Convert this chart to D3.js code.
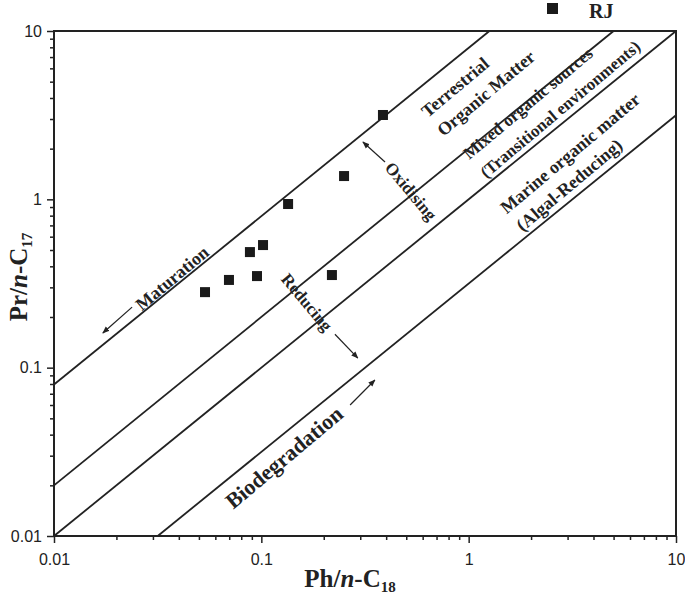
<!DOCTYPE html>
<html>
<head>
<meta charset="utf-8">
<script src="https://cdn.jsdelivr.net/npm/d3@7"></script>
<style>
body { margin: 0; background: #fff; }
.tick text { font-family: "Liberation Sans", Arial, sans-serif; font-size: 16px; fill: #222; }
.note { font-family: "Liberation Serif", "Times New Roman", serif; font-weight: bold; fill: #222; }
</style>
</head>
<body>
<svg id="chart" width="685" height="595"></svg>
<script>
// sample values
var phC18 = [0.0535, 0.0698, 0.0881, 0.1019, 0.0953, 0.1346, 0.219, 0.2506, 0.386];
var prC17 = [0.281, 0.332, 0.486, 0.535, 0.350, 0.938, 0.355, 1.375, 3.17];
var seriesName = "RJ";

var majorTicks = [0.01, 0.1, 1, 10];
var tickLabels = ["0.01", "0.1", "1", "10"];

// boundary lines: Pr/n-C17 = ratio * Ph/n-C18
var lineRatios = [7.94, 2, 1, 0.316];

var margin = {top: 31, right: 9, bottom: 59, left: 54};
var width = 685 - margin.left - margin.right;
var height = 595 - margin.top - margin.bottom;

var svg = d3.select("#chart").append("g")
    .attr("transform", "translate(" + margin.left + "," + margin.top + ")");

var x = d3.scaleLog().domain([0.01, 10]).range([0, width]);
var y = d3.scaleLog().domain([0.01, 10]).range([height, 0]);

// minor ticks 2..9 in each decade
var minorTicks = [];
majorTicks.slice(0, -1).forEach(function(m) {
    for (var i = 2; i < 10; i++) minorTicks.push(m * i);
});

function fmt(d) { return tickLabels[majorTicks.indexOf(d)]; }

svg.append("g").attr("transform", "translate(0," + height + ")")
    .call(d3.axisBottom(x).tickValues(majorTicks).tickFormat(fmt).tickSize(7).tickPadding(11));
svg.append("g").attr("transform", "translate(0," + height + ")")
    .call(d3.axisBottom(x).tickValues(minorTicks).tickFormat("").tickSize(4));
svg.append("g")
    .call(d3.axisLeft(y).tickValues(majorTicks).tickFormat(fmt).tickSize(7).tickPadding(5));
svg.append("g")
    .call(d3.axisLeft(y).tickValues(minorTicks).tickFormat("").tickSize(4));

svg.selectAll(".domain").remove();
svg.selectAll(".tick line").attr("stroke", "#222").attr("stroke-width", 1.5);

// frame
svg.append("rect")
    .attr("width", width).attr("height", height)
    .attr("fill", "none").attr("stroke", "#222").attr("stroke-width", 2);

// diagonal boundary lines, clipped to the domain
var line = d3.line().x(function(d) { return x(d[0]); }).y(function(d) { return y(d[1]); });
lineRatios.forEach(function(k) {
    var x0 = Math.max(0.01, 0.01 / k), x1 = Math.min(10, 10 / k);
    svg.append("path")
        .datum([[x0, k * x0], [x1, k * x1]])
        .attr("d", line)
        .attr("fill", "none").attr("stroke", "#222").attr("stroke-width", 1.8);
});

// annotations (data coordinates)
var angle = -40;
var notes = [
    {t: "Terrestrial", px: 0.859, py: 4.65, s: 18, r: angle},
    {t: "Organic Matter", px: 1.21, py: 4.28, s: 18, r: angle},
    {t: "Mixed organic sources", px: 1.93, py: 3.73, s: 17, r: angle},
    {t: "(Transitional environments)", px: 2.76, py: 3.44, s: 17, r: angle},
    {t: "Marine organic matter", px: 3.08, py: 1.88, s: 18, r: angle},
    {t: "(Algal-Reducing)", px: 3.05, py: 1.22, s: 18, r: angle},
    {t: "Maturation", px: 0.0371, py: 0.341, s: 18, r: angle},
    {t: "Biodegradation", px: 0.1285, py: 0.0294, s: 22, r: angle},
    {t: "Oxidising", px: 0.527, py: 1.12, s: 17, r: angle + 90},
    {t: "Reducing", px: 0.166, py: 0.245, s: 17, r: angle + 90}
];
svg.selectAll(".note").data(notes).enter().append("text")
    .attr("class", "note")
    .attr("text-anchor", "middle")
    .attr("dy", "0.35em")
    .attr("font-size", function(d) { return d.s; })
    .attr("transform", function(d) {
        return "translate(" + x(d.px) + "," + y(d.py) + ") rotate(" + d.r + ")";
    })
    .text(function(d) { return d.t; });

// arrows
svg.append("defs").append("marker")
    .attr("id", "arrow").attr("viewBox", "0 0 10 10")
    .attr("refX", 9).attr("refY", 5)
    .attr("markerWidth", 6).attr("markerHeight", 6)
    .attr("orient", "auto")
    .append("path").attr("d", "M0,1 L10,5 L0,9 Z").attr("fill", "#222");

var arrows = [
    [[0.395, 1.667], [0.309, 2.19]],
    [[0.2265, 0.158], [0.292, 0.114]],
    [[0.0238, 0.229], [0.0172, 0.1607]],
    [[0.268, 0.060], [0.353, 0.0845]]
];
arrows.forEach(function(a) {
    svg.append("path").datum(a).attr("d", line)
        .attr("fill", "none").attr("stroke", "#222").attr("stroke-width", 1.2)
        .attr("marker-end", "url(#arrow)");
});

// sample points
var pts = phC18.map(function(v, i) { return [v, prC17[i]]; });
svg.selectAll(".pt").data(pts).enter().append("rect")
    .attr("class", "pt")
    .attr("x", function(d) { return x(d[0]) - 5; })
    .attr("y", function(d) { return y(d[1]) - 5; })
    .attr("width", 10).attr("height", 10)
    .attr("fill", "#1a1a1a");

// legend
var lg = d3.select("#chart").append("g").attr("transform", "translate(547,3)");
lg.append("rect").attr("width", 11).attr("height", 11).attr("fill", "#1a1a1a");
lg.append("text").attr("class", "note").attr("x", 42).attr("y", 15)
    .attr("font-size", 20).text(seriesName);

// axis titles
var xt = d3.select("#chart").append("text").attr("class", "note")
    .attr("x", 350).attr("y", 587).attr("text-anchor", "middle").attr("font-size", 25);
xt.append("tspan").text("Ph/");
xt.append("tspan").attr("font-style", "italic").text("n");
xt.append("tspan").text("-C");
xt.append("tspan").attr("font-size", 15).attr("dy", 5).text("18");

var yt = d3.select("#chart").append("text").attr("class", "note")
    .attr("transform", "translate(27,277) rotate(-90)")
    .attr("text-anchor", "middle").attr("font-size", 25);
yt.append("tspan").text("Pr/");
yt.append("tspan").attr("font-style", "italic").text("n");
yt.append("tspan").text("-C");
yt.append("tspan").attr("font-size", 15).attr("dy", 5).text("17");
</script>
</body>
</html>
